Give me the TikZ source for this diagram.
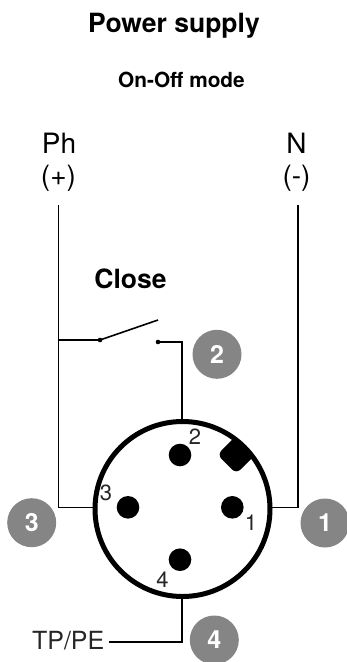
\documentclass[tikz,border=0pt]{standalone}
\usepackage{fontspec}
\setmainfont{TeX Gyre Heros}
\definecolor{badgegray}{HTML}{858585}
\tikzset{
  wire/.style={line width=1.6pt,black},
  pin/.style={circle,fill=black,inner sep=0pt,minimum size=22.6pt},
  badge/.style={circle,fill=badgegray,text=white,inner sep=0pt,minimum size=49pt,font=\bfseries\fontsize{25}{25}\selectfont},
  dotnode/.style={circle,fill=black,inner sep=0pt,minimum size=4.6pt},
  lab/.style={inner sep=0pt,font=\fontsize{28}{28}\selectfont},
  pinlab/.style={inner sep=0pt,text=black!85,font=\fontsize{22}{22}\selectfont},
}
\begin{document}
\begin{tikzpicture}[x=1pt,y=-1pt]
\useasboundingbox (0,0) rectangle (347,662);
\node[inner sep=0pt,font=\bfseries\fontsize{26.5}{26.5}\selectfont] (title) at (174,26) {Power supply};
\node[inner sep=0pt,font=\bfseries\fontsize{20.8}{20.8}\selectfont] (mode) at (181.5,80) {On-Off mode};
\node[lab] (ph) at (59,143) {Ph};
\node[lab] (plus) at (58.5,178) {(+)};
\node[lab] (n) at (296.5,143) {N};
\node[lab] (minus) at (296.5,178) {(-)};
\node[inner sep=0pt,font=\bfseries\fontsize{26.5}{26.5}\selectfont] (close) at (130.5,279) {Close};
% connector body
\node[circle,minimum size=175pt,inner sep=0pt] (conn) at (182.5,509) {};
\begin{scope}
  \clip (182.5,509) circle[radius=87.5];
  \node[fill=black,rotate=45,minimum width=36pt,minimum height=27pt,inner sep=0pt,rounded corners=6pt] (key) at (239.5,451.5) {};
\end{scope}
\draw[line width=5pt] (conn.center) circle[radius=87.5];
\node[pin] (p2) at (180,455) {};
\node[pin] (p3) at (128,507.3) {};
\node[pin] (p1) at (232.3,507.3) {};
\node[pin] (p4) at (180,559.7) {};
\node[pinlab] at (195,437) {2};
\node[pinlab] at (106,493) {3};
\node[pinlab] at (251,523) {1};
\node[pinlab] at (162.5,580) {4};
% wires
\coordinate (phtop) at (58.5,205);
\coordinate (ntop) at (298,205);
\coordinate (c3) at (95,507.3);
\coordinate (c1) at (270,507.3);
\coordinate (c2) at (182,421);
\coordinate (c4) at (182,597);
\coordinate (tap) at (58.5,340);
\coordinate (bladeend) at (158,320);
\coordinate (tpend) at (109,641.7);
\node[dotnode] (s1) at (100,340) {};
\node[dotnode] (s2) at (158,342) {};
\draw[wire] (phtop) |- (c3);
\draw[wire] (ntop) |- (c1);
\draw[wire] (tap) -- (s1.center) -- (bladeend);
\draw[wire] (s2.center) -| (c2);
\draw[wire] (c4) |- (tpend);
\node[inner sep=0pt,anchor=east,text=black!85,font=\fontsize{25}{25}\selectfont] (tp) at (104.5,641) {TP/PE};
\node[badge] (b2) at (217,354.3) {2};
\node[badge] (b3) at (31.7,522.7) {3};
\node[badge] (b1) at (325,523) {1};
\node[badge] (b4) at (214.3,640) {4};
\end{tikzpicture}
\end{document}
